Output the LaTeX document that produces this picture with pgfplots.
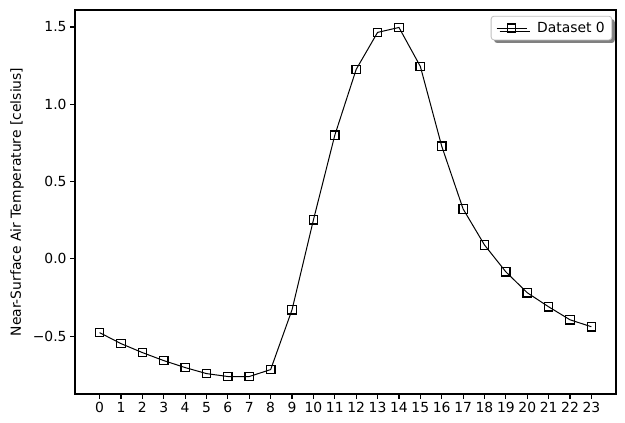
\documentclass[border=0pt]{standalone}
\usepackage{pgfplots}
\pgfplotsset{compat=1.18}
\usepackage{fontspec}
\setmainfont{DejaVu Sans}
\usetikzlibrary{shadows}
\begin{document}
\begin{tikzpicture}
\begin{axis}[
  scale only axis,
  width=541pt, height=384pt,
  xmin=-1.15, xmax=24.15,
  ymin=-0.874, ymax=1.61,
  xtick={0,1,...,23},
  ytick={-0.5,0,0.5,1.0,1.5},
  yticklabels={−0.5,0.0,0.5,1.0,1.5},
  /pgf/number format/assume math mode=true,
  tick label style={font=\fontsize{13.9}{16}\selectfont},
  label style={font=\fontsize{13.9}{16}\selectfont},
  ylabel={Near-Surface Air Temperature [celsius]},
  ylabel style={at={(axis description cs:-0.107,0.5)}, anchor=center, rotate=0},
  tick align=outside,
  xtick pos=bottom, ytick pos=left,
  major tick length=4.9pt,
  tick style={line width=1.1pt, black},
  axis line style={line width=1.1pt},
  legend style={at={(0.993,0.985)}, anchor=north east, font=\fontsize{13.9}{16}\selectfont,
    rounded corners=3pt, draw=black!25, line width=0.8pt,
    drop shadow={shadow xshift=3pt, shadow yshift=-3pt, fill=black!50, opacity=1},
    inner xsep=5pt, inner ysep=4pt,
    /tikz/every odd column/.style={column sep=8pt}},
  legend cell align=left,
  legend image code/.code={\draw[mark repeat=2,mark phase=2] plot coordinates {(0pt,0pt)(15pt,0pt)(30pt,0pt)};},
]
\addplot[black, line width=1pt, mark=square, mark size=4.2pt, mark options={line width=1.3pt, solid}]
coordinates {
(0,-0.477) (1,-0.548) (2,-0.606) (3,-0.658) (4,-0.703) (5,-0.742) (6,-0.761) (7,-0.761)
(8,-0.716) (9,-0.329) (10,0.252) (11,0.800) (12,1.226) (13,1.465) (14,1.497) (15,1.245)
(16,0.729) (17,0.323) (18,0.090) (19,-0.084) (20,-0.219) (21,-0.310) (22,-0.394) (23,-0.439)
};
\addlegendentry{Dataset 0}
\end{axis}
\pgfresetboundingbox
\path (current axis.south west) ++(-75pt,-29pt) rectangle ++(625pt,423pt);
\end{tikzpicture}
\end{document}
